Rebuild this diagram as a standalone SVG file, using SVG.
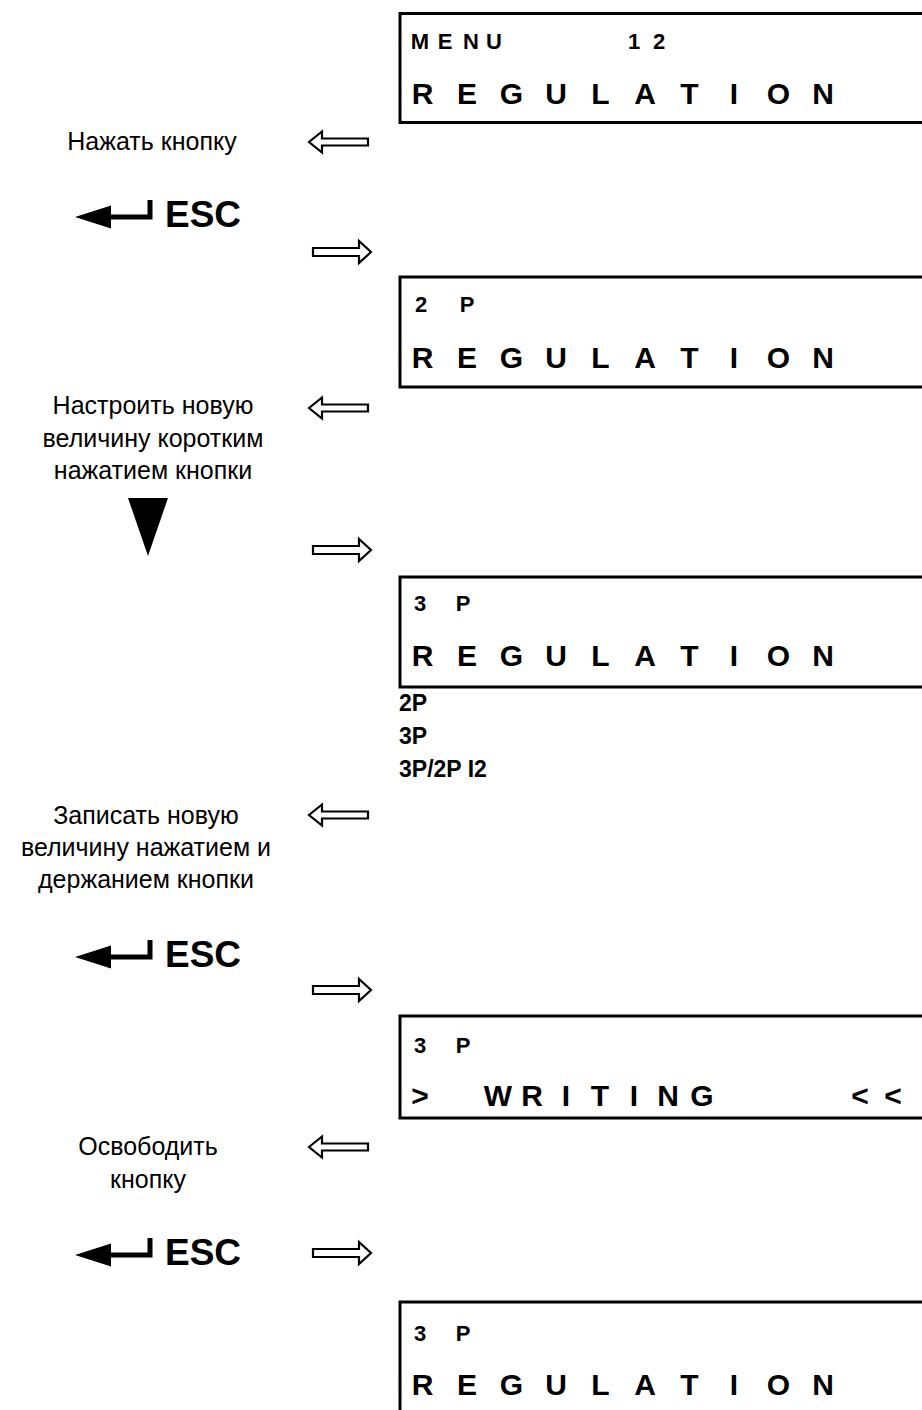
<svg xmlns="http://www.w3.org/2000/svg" xmlns:xlink="http://www.w3.org/1999/xlink" width="922" height="1410" viewBox="0 0 922 1410">
<style>
.lbl{font-family:"Liberation Sans",Arial,sans-serif;font-size:25px;fill:#000;text-anchor:middle}
.sm{font-family:"Liberation Sans",Arial,sans-serif;font-size:22px;font-weight:bold;fill:#000;text-anchor:middle}
.big{font-family:"Liberation Sans",Arial,sans-serif;font-size:30px;font-weight:bold;fill:#000;text-anchor:middle}
.lst{font-family:"Liberation Sans",Arial,sans-serif;font-size:23px;font-weight:bold;fill:#000}
.esc{font-family:"Liberation Sans",Arial,sans-serif;font-size:37px;font-weight:bold;fill:#000}
.box{fill:#fff;stroke:#000;stroke-width:3}
.harr{fill:#fff;stroke:#000;stroke-width:2.2;stroke-linejoin:miter}
</style>
<defs>
<path id="arrowL" class="harr" d="M0,0 L13,-10.5 L13,-3.5 L59,-3.5 L59,3.5 L13,3.5 L13,10.5 Z"/>
<path id="arrowR" class="harr" d="M0,-4 L46,-4 L46,-11 L58,0 L46,11 L46,4 L0,4 Z"/>
<g id="enter">
<path d="M0,0 L36,-11.5 L36,11.5 Z" fill="#000"/>
<path d="M33,-2.5 L72.5,-2.5 L72.5,-17 L77.5,-17 L77.5,2.5 L33,2.5 Z" fill="#000"/>
</g>
</defs>
<rect width="922" height="1410" fill="#fff"/>

<g id="display1">
<rect class="box" x="400" y="13.5" width="600" height="109"/>
<text class="sm" x="420 445 471 494 634 659" y="49">MENU12</text>
<text class="big" x="422.5 467 511.5 556 600.5 645 689.5 734 778.5 823" y="104">REGULATION</text>
</g>

<g id="display2">
<rect class="box" x="400" y="277" width="600" height="110"/>
<text class="sm" x="421" y="312">2</text>
<text class="sm" x="467" y="312">P</text>
<text class="big" x="422.5 467 511.5 556 600.5 645 689.5 734 778.5 823" y="368">REGULATION</text>
</g>

<g id="display3">
<rect class="box" x="400" y="577" width="600" height="110"/>
<text class="sm" x="420" y="611">3</text>
<text class="sm" x="463" y="611">P</text>
<text class="big" x="422.5 467 511.5 556 600.5 645 689.5 734 778.5 823" y="666">REGULATION</text>
</g>

<g id="options">
<text class="lst" x="399" y="711">2P</text>
<text class="lst" x="399" y="744">3P</text>
<text class="lst" x="399" y="777">3P/2P I2</text>
</g>

<g id="display4">
<rect class="box" x="400" y="1016" width="600" height="102"/>
<text class="sm" x="420" y="1053">3</text>
<text class="sm" x="463" y="1053">P</text>
<text class="big" x="420 498 532 566 600 634 668 702 860 893" y="1106">&gt;WRITING&lt;&lt;</text>
</g>

<g id="display5">
<rect class="box" x="400" y="1302" width="600" height="200"/>
<text class="sm" x="420" y="1341">3</text>
<text class="sm" x="463" y="1341">P</text>
<text class="big" x="422.5 467 511.5 556 600.5 645 689.5 734 778.5 823" y="1395">REGULATION</text>
</g>

<g id="step1">
<text class="lbl" x="152" y="150">Нажать кнопку</text>
</g>
<g id="esc1">
<use xlink:href="#enter" x="75" y="217"/>
<text class="esc" x="165" y="227">ESC</text>
</g>

<g id="step2">
<text class="lbl" x="153" y="414">Настроить новую</text>
<text class="lbl" x="153" y="447">величину коротким</text>
<text class="lbl" x="153" y="479">нажатием кнопки</text>
<polygon points="128,498 168,498 148,556" fill="#000"/>
</g>

<g id="step3">
<text class="lbl" x="146" y="824">Записать новую</text>
<text class="lbl" x="146" y="856">величину нажатием и</text>
<text class="lbl" x="146" y="888">держанием кнопки</text>
</g>
<g id="esc2">
<use xlink:href="#enter" x="75" y="957"/>
<text class="esc" x="165" y="967">ESC</text>
</g>

<g id="step4">
<text class="lbl" x="148" y="1155">Освободить</text>
<text class="lbl" x="148" y="1188">кнопку</text>
</g>
<g id="esc3">
<use xlink:href="#enter" x="75" y="1255"/>
<text class="esc" x="165" y="1265">ESC</text>
</g>

<g id="connectors">
<use xlink:href="#arrowL" x="309" y="142"/>
<use xlink:href="#arrowR" x="313" y="252"/>
<use xlink:href="#arrowL" x="309" y="408"/>
<use xlink:href="#arrowR" x="313" y="550"/>
<use xlink:href="#arrowL" x="309" y="815"/>
<use xlink:href="#arrowR" x="313" y="990"/>
<use xlink:href="#arrowL" x="309" y="1147"/>
<use xlink:href="#arrowR" x="313" y="1253"/>
</g>
</svg>
